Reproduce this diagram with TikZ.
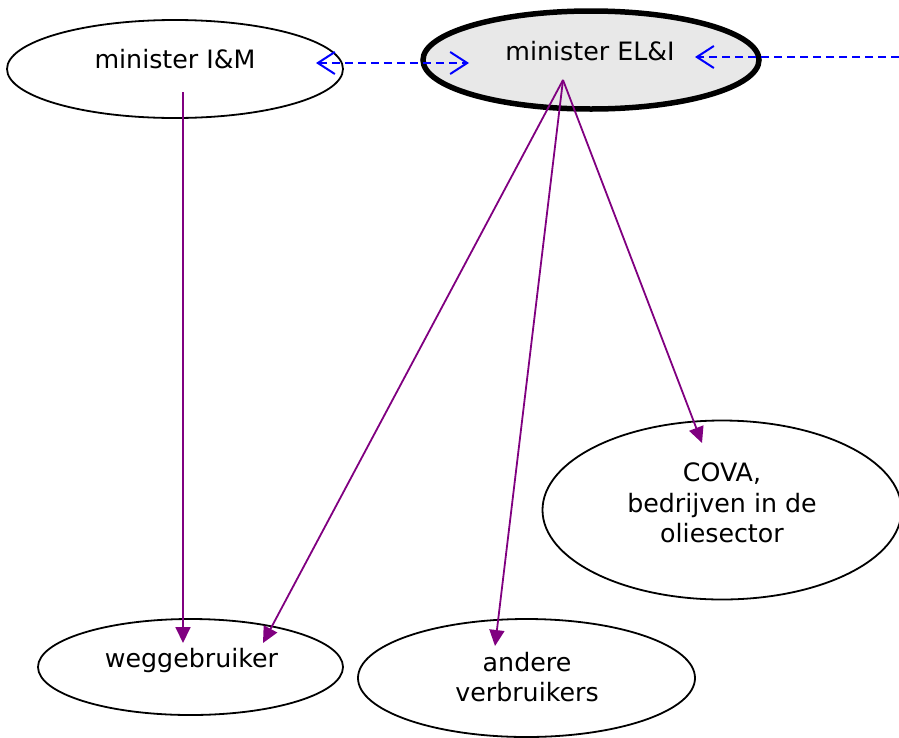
\documentclass[tikz,border=0pt]{standalone}
\usepackage{fontspec}
\setmainfont{DejaVu Sans}
\usetikzlibrary{shapes.geometric,arrows.meta}
\definecolor{elfill}{HTML}{E8E8E8}
\definecolor{purp}{HTML}{800080}
\tikzset{barbtip/.tip={Straight Barb[length=17pt,width=22pt,line width=2pt]}}
\begin{document}
\begin{tikzpicture}[x=1pt,y=-1pt,
  ell/.style={draw=black,ellipse,line width=1.8pt,inner sep=0pt,outer sep=0pt},
  txt/.style={font=\fontsize{25.3}{31}\selectfont,align=center,inner sep=0pt},
  flow/.style={draw=purp,line width=1.8pt,-{Triangle[length=16pt,width=15pt]}},
  link/.style={draw=blue,line width=2.2pt,dash pattern=on 8pt off 5pt}]
\useasboundingbox (0,0) rectangle (899,737);
% ellipses
\node[ell,minimum width=336pt,minimum height=98pt] (im) at (175,69) {};
\node[ell,line width=5.5pt,fill=elfill,minimum width=336pt,minimum height=98pt] (el) at (591,60) {};
\node[ell,minimum width=359pt,minimum height=179pt] (cova) at (722,510) {};
\node[ell,minimum width=305pt,minimum height=96pt] (weg) at (190.5,667) {};
\node[ell,minimum width=337pt,minimum height=118pt] (and) at (526.5,678) {};
% texts
\node[txt,anchor=base] (imT) at (175,68) {minister I\&M};
\node[txt,anchor=base] (elT) at (590,60) {minister EL\&I};
\node[txt,anchor=base] (covaT) at (722,481) {COVA,};
\node[txt,anchor=base] (covaT2) at (722,512) {bedrijven in de};
\node[txt,anchor=base] (covaT3) at (722,542) {oliesector};
\node[txt,anchor=base] (wegT) at (191.5,667) {weggebruiker};
\node[txt,anchor=base] (andT) at (527,671) {andere};
\node[txt,anchor=base] (andT2) at (527,701) {verbruikers};
% connector end points
\coordinate (imL) at (316,63);
\coordinate (elL) at (469,63);
\coordinate (elR) at (695,57);
\coordinate (edge) at (899,57);
\coordinate (imS) at (183,92);
\coordinate (elS) at (563,80);
\coordinate (wegA) at (183,643);
\coordinate (wegB) at (263,643);
\coordinate (andA) at (495,646);
\coordinate (covaA) at (702,443);
% dashed links
\draw[link,barbtip-barbtip] (imL) -- (elL);
\draw[link,-barbtip] (edge) -- (elR);
% purple flows
\draw[flow] (imS) -- (wegA);
\draw[flow] (elS) -- (wegB);
\draw[flow] (elS) -- (andA);
\draw[flow] (elS) -- (covaA);
\end{tikzpicture}
\end{document}
